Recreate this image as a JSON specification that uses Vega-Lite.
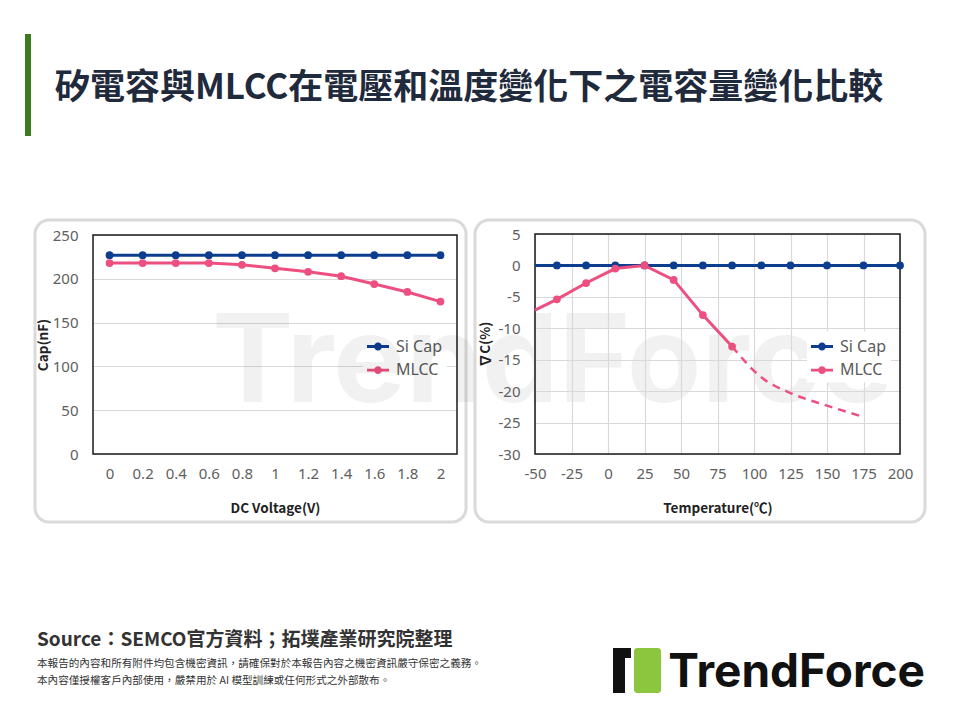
{
  "$schema": "https://vega.github.io/schema/vega-lite/v6.json",
  "background": "white",
  "padding": {"left": 25, "top": 34, "right": 0, "bottom": 0},
  "bounds": "flush",
  "spacing": 84,
  "config": {
    "view": {"stroke": null},
    "font": "Noto Sans",
    "axis": {
      "labelFont": "Noto Sans", "labelFontSize": 15, "labelColor": "#606060",
      "titleFont": "Noto Sans CJK KR", "titleFontSize": 13.5, "titleFontWeight": "bold", "titleColor": "#222222",
      "ticks": false, "domain": false, "gridColor": "#d9d9d9", "gridWidth": 1.2,
      "labelFlush": false, "labelOverlap": false
    }
  },
  "vconcat": [
    {
      "width": 6, "height": 102,
      "data": {"values": []},
      "mark": "point",
      "view": {"fill": "#3b7a1e", "stroke": null},
      "title": {
        "text": "矽電容與MLCC在電壓和溫度變化下之電容量變化比較",
        "orient": "top", "anchor": "start", "frame": "group", "offset": 0,
        "dx": 30, "dy": 72,
        "font": "Noto Sans CJK TC", "fontSize": 35, "fontWeight": "bold", "color": "#1f2a3c"
      }
    },
    {
      "bounds": "flush",
      "spacing": 9,
      "resolve": {"scale": {"stroke": "independent", "fill": "independent"}, "legend": {"stroke": "independent", "fill": "independent"}},
      "hconcat": [
        {
          "width": 1, "height": 302, "data": {"values": []}, "mark": "point",
          "title": {
            "text": "Source：SEMCO官方資料；拓墣產業研究院整理",
            "subtitle": ["本報告的內容和所有附件均包含機密資訊，請確保對於本報告內容之機密資訊嚴守保密之義務。", "本內容僅授權客戶內部使用，嚴禁用於 AI 模型訓練或任何形式之外部散布。"],
            "orient": "bottom", "anchor": "start", "frame": "group", "offset": 108.5, "dx": 12,
            "font": "Noto Sans CJK TC", "fontSize": 19, "fontWeight": "bold", "color": "#333333",
            "subtitleFont": "Noto Sans CJK TC", "subtitleFontSize": 10.6, "subtitleColor": "#333333",
            "subtitlePadding": 9.5, "subtitleLineHeight": 17
          }
        },
        {
          "width": 431, "height": 302,
          "view": {"fill": null, "stroke": "#dadada", "strokeWidth": 3, "cornerRadius": 14},
          "title": {
            "text": "TrendForce", "orient": "top", "anchor": "start", "frame": "group", "offset": 0,
            "dx": 177, "dy": 208,
            "font": "Inter", "fontSize": 122, "fontWeight": "bold", "color": "rgba(0,0,0,0.055)"
          },
          "data": {"values": [
            {"voltage": 0, "series": "Si Cap", "cap": 227},
            {"voltage": 0.2, "series": "Si Cap", "cap": 227},
            {"voltage": 0.4, "series": "Si Cap", "cap": 227},
            {"voltage": 0.6, "series": "Si Cap", "cap": 227},
            {"voltage": 0.8, "series": "Si Cap", "cap": 227},
            {"voltage": 1, "series": "Si Cap", "cap": 227},
            {"voltage": 1.2, "series": "Si Cap", "cap": 227},
            {"voltage": 1.4, "series": "Si Cap", "cap": 227},
            {"voltage": 1.6, "series": "Si Cap", "cap": 227},
            {"voltage": 1.8, "series": "Si Cap", "cap": 227},
            {"voltage": 2, "series": "Si Cap", "cap": 227},
            {"voltage": 0, "series": "MLCC", "cap": 218},
            {"voltage": 0.2, "series": "MLCC", "cap": 218},
            {"voltage": 0.4, "series": "MLCC", "cap": 218},
            {"voltage": 0.6, "series": "MLCC", "cap": 218},
            {"voltage": 0.8, "series": "MLCC", "cap": 216},
            {"voltage": 1, "series": "MLCC", "cap": 212},
            {"voltage": 1.2, "series": "MLCC", "cap": 208},
            {"voltage": 1.4, "series": "MLCC", "cap": 203},
            {"voltage": 1.6, "series": "MLCC", "cap": 194},
            {"voltage": 1.8, "series": "MLCC", "cap": 185},
            {"voltage": 2, "series": "MLCC", "cap": 174}
          ]},
          "layer": [
            {
              "data": {"values": [{}]},
              "mark": {"type": "rect", "fill": "transparent", "stroke": "#1a1a1a", "strokeWidth": 1.5},
              "encoding": {
                "x": {"datum": -0.1, "type": "quantitative",
                  "scale": {"domain": [-0.1, 2.1], "range": [58, 422], "nice": false, "zero": false},
                  "axis": {"orient": "bottom", "offset": -68, "values": [0, 0.2, 0.4, 0.6, 0.8, 1, 1.2, 1.4, 1.6, 1.8, 2], "format": "~g", "grid": false, "labelPadding": 12, "title": "DC Voltage(V)", "titlePadding": 20}},
                "x2": {"datum": 2.1},
                "y": {"datum": 0, "type": "quantitative",
                  "scale": {"domain": [0, 250], "range": [234, 15], "nice": false},
                  "axis": {"orient": "left", "offset": -58, "values": [0, 50, 100, 150, 200, 250], "grid": true, "labelPadding": 15, "title": "Cap(nF)", "titlePadding": 2}},
                "y2": {"datum": 250}
              }
            },
            {
              "mark": {"type": "line", "strokeWidth": 3},
              "encoding": {
                "x": {"field": "voltage", "type": "quantitative"},
                "y": {"field": "cap", "type": "quantitative"},
                "stroke": {"field": "series", "type": "nominal", "scale": {"domain": ["Si Cap", "MLCC"], "range": ["#0c3d8f", "#ec4f80"]},
                  "legend": {"title": null, "orient": "none", "legendX": 328, "legendY": 111.5,
                    "symbolType": "M-1,-0.13L1,-0.13L1,0.13L-1,0.13Z M0.36,0A0.36,0.36 0 1 1 -0.36,0A0.36,0.36 0 1 1 0.36,0Z",
                    "symbolSize": 484, "symbolStrokeWidth": 0, "symbolOpacity": 1,
                    "labelFont": "Noto Sans", "labelFontSize": 16, "labelColor": "#5a5a5a", "labelOffset": 7,
                    "rowPadding": 4.6, "padding": 4, "fillColor": "white"}}
              }
            },
            {
              "mark": {"type": "circle", "size": 60, "opacity": 1},
              "encoding": {
                "x": {"field": "voltage", "type": "quantitative"},
                "y": {"field": "cap", "type": "quantitative"},
                "fill": {"field": "series", "type": "nominal", "scale": {"domain": ["Si Cap", "MLCC"], "range": ["#0c3d8f", "#ec4f80"]},
                  "legend": {"title": null, "orient": "none", "legendX": 328, "legendY": 111.5,
                    "symbolType": "M-1,-0.13L1,-0.13L1,0.13L-1,0.13Z M0.36,0A0.36,0.36 0 1 1 -0.36,0A0.36,0.36 0 1 1 0.36,0Z",
                    "symbolSize": 484, "symbolStrokeWidth": 0, "symbolOpacity": 1,
                    "labelFont": "Noto Sans", "labelFontSize": 16, "labelColor": "#5a5a5a", "labelOffset": 7,
                    "rowPadding": 4.6, "padding": 4, "fillColor": "white"}}
              }
            }
          ]
        },
        {
          "width": 450, "height": 302,
          "view": {"fill": null, "stroke": "#dadada", "strokeWidth": 3, "cornerRadius": 14},
          "title": {
            "text": "TrendForce", "orient": "bottom", "anchor": "end", "frame": "group", "offset": 128.7,
            "font": "Inter", "fontSize": 46, "fontWeight": "bold", "color": "#111111"
          },
          "resolve": {"axis": {"x": "independent"}},
          "data": {"values": [
            {"temp": -50, "series": "Si Cap", "dc": 0},
            {"temp": -35, "series": "Si Cap", "dc": 0},
            {"temp": -15, "series": "Si Cap", "dc": 0},
            {"temp": 5, "series": "Si Cap", "dc": 0},
            {"temp": 25, "series": "Si Cap", "dc": 0},
            {"temp": 45, "series": "Si Cap", "dc": 0},
            {"temp": 65, "series": "Si Cap", "dc": 0},
            {"temp": 85, "series": "Si Cap", "dc": 0},
            {"temp": 105, "series": "Si Cap", "dc": 0},
            {"temp": 125, "series": "Si Cap", "dc": 0},
            {"temp": 150, "series": "Si Cap", "dc": 0},
            {"temp": 175, "series": "Si Cap", "dc": 0},
            {"temp": 200, "series": "Si Cap", "dc": 0},
            {"temp": -50, "series": "MLCC", "dc": -7.1},
            {"temp": -35, "series": "MLCC", "dc": -5.4},
            {"temp": -15, "series": "MLCC", "dc": -2.8},
            {"temp": 5, "series": "MLCC", "dc": -0.5},
            {"temp": 25, "series": "MLCC", "dc": 0},
            {"temp": 45, "series": "MLCC", "dc": -2.3},
            {"temp": 65, "series": "MLCC", "dc": -7.9},
            {"temp": 85, "series": "MLCC", "dc": -12.9}
          ]},
          "layer": [
            {
              "data": {"values": [{}]},
              "mark": {"type": "rect", "fill": "transparent", "stroke": "#1a1a1a", "strokeWidth": 1.5},
              "encoding": {
                "x": {"datum": -50, "type": "quantitative",
                  "scale": {"domain": [-50, 200], "range": [60, 425], "nice": false, "zero": false},
                  "axis": {"orient": "bottom", "offset": -68, "values": [-50, -25, 0, 25, 50, 75, 100, 125, 150, 175, 200], "labelExpr": "toString(datum.value)", "grid": false, "labelPadding": 12, "title": "Temperature(℃)", "titlePadding": 20}},
                "x2": {"datum": 200},
                "y": {"datum": -30, "type": "quantitative",
                  "scale": {"domain": [-30, 5], "range": [234, 14], "nice": false, "zero": false},
                  "axis": {"orient": "left", "offset": -60, "values": [-30, -25, -20, -15, -10, -5, 0, 5], "labelExpr": "toString(datum.value)", "grid": true, "labelPadding": 15, "title": "∇C(%)", "titlePadding": 6}},
                "y2": {"datum": 5}
              }
            },
            {
              "data": {"values": [
                {"temp": 85, "series": "MLCC", "dc": -12.9},
                {"temp": 105, "series": "MLCC", "dc": -17.8},
                {"temp": 125, "series": "MLCC", "dc": -20.3},
                {"temp": 150, "series": "MLCC", "dc": -22.3},
                {"temp": 175, "series": "MLCC", "dc": -24.1}
              ]},
              "mark": {"type": "line", "strokeWidth": 2.5, "strokeDash": [8, 6], "interpolate": "monotone"},
              "encoding": {
                "x": {"field": "temp", "type": "quantitative", "axis": {"orient": "top", "offset": 0, "values": [-50, -25, 0, 25, 50, 75, 100, 125, 150, 175, 200], "grid": true, "labels": false, "title": null}},
                "y": {"field": "dc", "type": "quantitative"},
                "stroke": {"field": "series", "type": "nominal", "scale": {"domain": ["Si Cap", "MLCC"], "range": ["#0c3d8f", "#ec4f80"]},
                  "legend": {"title": null, "orient": "none", "legendX": 332, "legendY": 111.5,
                    "symbolType": "M-1,-0.13L1,-0.13L1,0.13L-1,0.13Z M0.36,0A0.36,0.36 0 1 1 -0.36,0A0.36,0.36 0 1 1 0.36,0Z",
                    "symbolSize": 484, "symbolStrokeWidth": 0, "symbolOpacity": 1,
                    "labelFont": "Noto Sans", "labelFontSize": 16, "labelColor": "#5a5a5a", "labelOffset": 7,
                    "rowPadding": 4.6, "padding": 4, "fillColor": "white"}}
              }
            },
            {
              "mark": {"type": "line", "strokeWidth": 3},
              "encoding": {
                "x": {"field": "temp", "type": "quantitative", "axis": null},
                "y": {"field": "dc", "type": "quantitative"},
                "stroke": {"field": "series", "type": "nominal", "scale": {"domain": ["Si Cap", "MLCC"], "range": ["#0c3d8f", "#ec4f80"]},
                  "legend": {"title": null, "orient": "none", "legendX": 332, "legendY": 111.5,
                    "symbolType": "M-1,-0.13L1,-0.13L1,0.13L-1,0.13Z M0.36,0A0.36,0.36 0 1 1 -0.36,0A0.36,0.36 0 1 1 0.36,0Z",
                    "symbolSize": 484, "symbolStrokeWidth": 0, "symbolOpacity": 1,
                    "labelFont": "Noto Sans", "labelFontSize": 16, "labelColor": "#5a5a5a", "labelOffset": 7,
                    "rowPadding": 4.6, "padding": 4, "fillColor": "white"}}
              }
            },
            {
              "transform": [{"filter": "datum.temp > -50"}],
              "mark": {"type": "circle", "size": 60, "opacity": 1},
              "encoding": {
                "x": {"field": "temp", "type": "quantitative", "axis": null},
                "y": {"field": "dc", "type": "quantitative"},
                "fill": {"field": "series", "type": "nominal", "scale": {"domain": ["Si Cap", "MLCC"], "range": ["#0c3d8f", "#ec4f80"]},
                  "legend": {"title": null, "orient": "none", "legendX": 332, "legendY": 111.5,
                    "symbolType": "M-1,-0.13L1,-0.13L1,0.13L-1,0.13Z M0.36,0A0.36,0.36 0 1 1 -0.36,0A0.36,0.36 0 1 1 0.36,0Z",
                    "symbolSize": 484, "symbolStrokeWidth": 0, "symbolOpacity": 1,
                    "labelFont": "Noto Sans", "labelFontSize": 16, "labelColor": "#5a5a5a", "labelOffset": 7,
                    "rowPadding": 4.6, "padding": 4, "fillColor": "white"}}
              }
            }
          ]
        }
      ]
    },
    {
      "bounds": "flush",
      "spacing": 9,
      "vconcat": [
        {"width": 1, "height": 335, "data": {"values": []}, "mark": "point"},
        {
          "bounds": "flush",
          "spacing": 3,
          "hconcat": [
            {"width": 585, "height": 45, "data": {"values": []}, "mark": "point"},
            {
              "bounds": "flush",
              "spacing": 0,
              "vconcat": [
                {"width": 18, "height": 10, "data": {"values": []}, "mark": "point", "view": {"fill": "#111111", "stroke": null}},
                {"width": 12, "height": 35, "data": {"values": []}, "mark": "point", "view": {"fill": "#111111", "stroke": null}}
              ]
            },
            {"width": 15, "height": 45, "data": {"values": []}, "mark": "point"},
            {"width": 27, "height": 45, "data": {"values": []}, "mark": "point", "view": {"fill": "#8cc63f", "stroke": null, "cornerRadius": 3}}
          ]
        }
      ]
    }
  ]
}
